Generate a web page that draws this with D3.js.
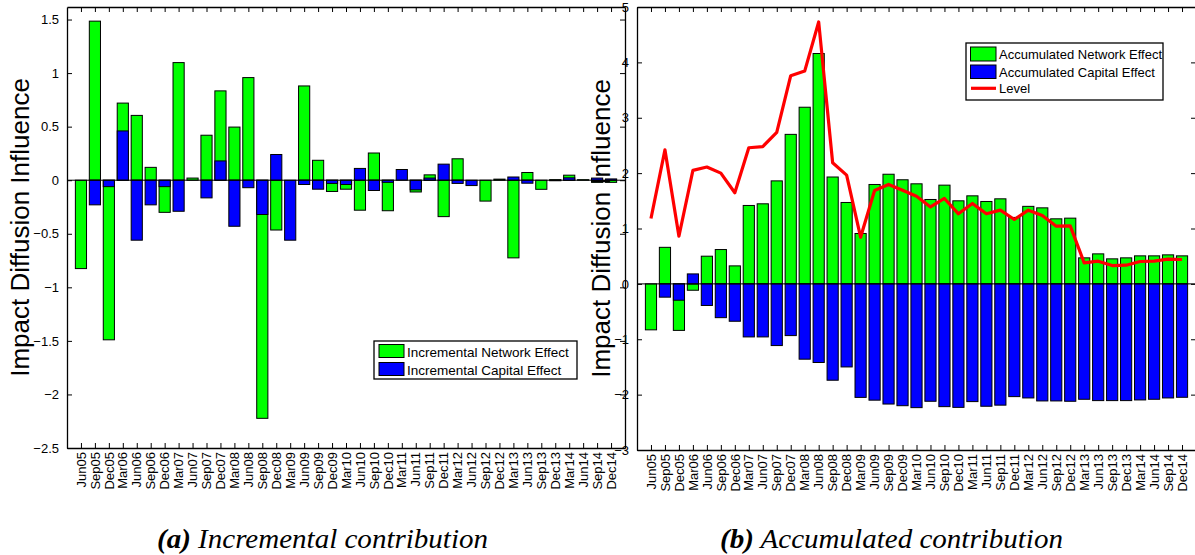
<!DOCTYPE html>
<html>
<head>
<meta charset="utf-8">
<script src="https://cdn.jsdelivr.net/npm/d3@7"></script>
<style>
  html, body { margin: 0; padding: 0; background: #fff; }
  svg { display: block; }
  text { font-family: "Liberation Sans", Arial, sans-serif; fill: #000; }
</style>
</head>
<body>
<svg id="fig" width="1195" height="555"></svg>
<script>
// Quarterly periods on the x axis
const quarters = [
  "Jun05","Sep05","Dec05",
  "Mar06","Jun06","Sep06","Dec06",
  "Mar07","Jun07","Sep07","Dec07",
  "Mar08","Jun08","Sep08","Dec08",
  "Mar09","Jun09","Sep09","Dec09",
  "Mar10","Jun10","Sep10","Dec10",
  "Mar11","Jun11","Sep11","Dec11",
  "Mar12","Jun12","Sep12","Dec12",
  "Mar13","Jun13","Sep13","Dec13",
  "Mar14","Jun14","Sep14","Dec14"
];

// (a) incremental contributions
const incNetwork = [
  -0.825, 1.485, -1.49,
  0.72, 0.605, 0.12, -0.30,
  1.098, 0.02, 0.42, 0.834,
  0.496, 0.958, -2.223, -0.465,
  0.0, 0.88, 0.186, -0.105,
  -0.084, -0.28, 0.254, -0.285,
  0.0, -0.11, 0.05, -0.34,
  0.20, 0.0, -0.195, 0.01,
  -0.725, 0.072, -0.085, 0.005,
  0.047, 0.005, -0.02, -0.02
];
const incCapital = [
  0.0, -0.23, -0.06,
  0.46, -0.56, -0.23, -0.06,
  -0.29, 0.0, -0.165, 0.18,
  -0.43, -0.07, -0.32, 0.24,
  -0.56, -0.04, -0.084, -0.03,
  -0.04, 0.11, -0.096, -0.02,
  0.10, -0.09, 0.02, 0.15,
  -0.03, -0.05, 0.0, 0.0,
  0.03, -0.028, 0.0, -0.005,
  0.022, 0.0, 0.02, 0.012
];

// (b) accumulated contributions and overall level
const accNetwork = [
  -0.83, 0.66, -0.84,
  -0.115, 0.50, 0.62, 0.325,
  1.416, 1.446, 1.86, 2.70,
  3.19, 4.16, 1.93, 1.47,
  0.91, 1.795, 1.98, 1.88,
  1.807, 1.524, 1.783, 1.50,
  1.59, 1.488, 1.536, 1.20,
  1.40, 1.373, 1.175, 1.187,
  0.47, 0.542, 0.452, 0.47,
  0.506, 0.506, 0.524, 0.506
];
const accCapital = [
  0.0, -0.24, -0.295,
  0.18, -0.39, -0.61, -0.675,
  -0.958, -0.958, -1.114, -0.934,
  -1.36, -1.42, -1.74, -1.50,
  -2.05, -2.10, -2.17, -2.20,
  -2.235, -2.12, -2.217, -2.23,
  -2.126, -2.21, -2.19, -2.036,
  -2.06, -2.114, -2.114, -2.12,
  -2.084, -2.108, -2.108, -2.108,
  -2.096, -2.084, -2.06, -2.048
];
const level = [
  1.18, 2.42, 0.86,
  2.05, 2.11, 2.0, 1.645,
  2.458, 2.48, 2.735, 3.76,
  3.843, 4.73, 2.187, 1.964,
  0.843, 1.687, 1.795, 1.69,
  1.584, 1.39, 1.542, 1.265,
  1.452, 1.265, 1.331, 1.163,
  1.331, 1.235, 1.042, 1.048,
  0.38, 0.41, 0.331, 0.337,
  0.404, 0.41, 0.446, 0.44
];

// Tick values / labels
const incTicks = [-2.5, -2, -1.5, -1, -0.5, 0, 0.5, 1, 1.5];
const accTicks = [-3, -2, -1, 0, 1, 2, 3, 4, 5];

const GREEN = "#00ff00", BLUE = "#0000ff", RED = "#ff0000";
const svg = d3.select("#fig");
svg.append("rect").attr("width", 1195).attr("height", 555).attr("fill", "#fff");

const fmtTick = v => (v < 0 ? "\u2212" : "") + String(Math.abs(v));

function panel(opts) {
  const g = svg.append("g");
  const x = d3.scaleLinear().domain([0, quarters.length + 1]).range([opts.left, opts.right]);
  const y = d3.scaleLinear().domain(opts.yDomain).range([opts.bottom, opts.top]);
  const bw = (x(1) - x(0)) * 0.8;
  const idx = d3.range(quarters.length);

  // network bars (drawn first), capital bars on top, both from zero
  const bars = [[opts.network, GREEN], [opts.capital, BLUE]];
  bars.forEach(([vals, col]) => {
    g.append("g").selectAll("rect").data(idx).join("rect")
      .attr("x", i => x(i + 1) - bw / 2)
      .attr("width", bw)
      .attr("y", i => Math.min(y(0), y(vals[i])))
      .attr("height", i => Math.abs(y(vals[i]) - y(0)))
      .attr("fill", col)
      .attr("stroke", "#000")
      .attr("stroke-width", 1);
  });

  // baseline at zero
  g.append("line")
    .attr("x1", opts.left).attr("x2", opts.right)
    .attr("y1", y(0)).attr("y2", y(0))
    .attr("stroke", "#000").attr("stroke-width", 1);

  if (opts.line) {
    g.append("path")
      .datum(opts.line)
      .attr("d", d3.line().x((d, i) => x(i + 1)).y(d => y(d)))
      .attr("fill", "none")
      .attr("stroke", RED)
      .attr("stroke-width", 3.2)
      .attr("stroke-linejoin", "round");
  }

  // axes box with inward ticks on all sides
  const tickLen = 5;
  const xTicks = idx.map(i => i + 1);
  const bottomAxis = d3.axisBottom(x).tickValues(xTicks).tickFormat("").tickSizeInner(-tickLen).tickSizeOuter(0);
  const topAxis = d3.axisTop(x).tickValues(xTicks).tickFormat("").tickSizeInner(-tickLen).tickSizeOuter(0);
  const leftAxis = d3.axisLeft(y).tickValues(opts.ticks).tickFormat(fmtTick).tickSizeInner(-tickLen).tickSizeOuter(0).tickPadding(8);
  const rightAxis = d3.axisRight(y).tickValues(opts.ticks).tickFormat("").tickSizeInner(-tickLen).tickSizeOuter(0);

  const ax = [
    g.append("g").attr("transform", `translate(0,${opts.bottom})`).call(bottomAxis),
    g.append("g").attr("transform", `translate(0,${opts.top})`).call(topAxis),
    g.append("g").attr("transform", `translate(${opts.left},0)`).call(leftAxis),
    g.append("g").attr("transform", `translate(${opts.right},0)`).call(rightAxis)
  ];
  ax.forEach(a => {
    a.select(".domain").attr("stroke", "#000").attr("stroke-width", 1.3);
    a.selectAll(".tick line").attr("stroke", "#000").attr("stroke-width", 1);
  });
  ax[2].selectAll("text")
    .style("font-size", "13px")
    .style("font-family", "Liberation Sans, Arial, sans-serif")
    .attr("fill", "#000");

  // rotated quarter labels below the axis
  g.append("g").selectAll("text").data(idx).join("text")
    .attr("transform", i => `translate(${x(i + 1)},${opts.bottom + 4}) rotate(-90)`)
    .attr("text-anchor", "end")
    .attr("dy", "0.36em")
    .style("font-size", "13px")
    .text(i => quarters[i]);

  // y axis title
  g.append("text")
    .attr("transform", `translate(${opts.titleX},${(opts.top + opts.bottom) / 2}) rotate(-90)`)
    .attr("text-anchor", "middle")
    .style("font-size", "26px")
    .text("Impact Diffusion Influence");

  return { g, x, y };
}

panel({
  left: 67, right: 625, top: 7, bottom: 448,
  yDomain: [-2.5, 1.617], ticks: incTicks,
  network: incNetwork, capital: incCapital,
  titleX: 29
});

panel({
  left: 637, right: 1196, top: 7, bottom: 450,
  yDomain: [-3, 5], ticks: accTicks,
  network: accNetwork, capital: accCapital, line: level,
  titleX: 610
});

// legends
function legend(x0, y0, w, h, fs, items) {
  const lg = svg.append("g");
  lg.append("rect").attr("x", x0).attr("y", y0).attr("width", w).attr("height", h)
    .attr("fill", "#fff").attr("stroke", "#000").attr("stroke-width", 1.3);
  items.forEach(it => {
    if (it.type === "patch") {
      lg.append("rect").attr("x", it.px).attr("y", it.py).attr("width", it.pw).attr("height", it.ph)
        .attr("fill", it.color).attr("stroke", "#000").attr("stroke-width", 1);
    } else {
      lg.append("line").attr("x1", it.px).attr("x2", it.px + it.pw)
        .attr("y1", it.py).attr("y2", it.py)
        .attr("stroke", it.color).attr("stroke-width", 3.2);
    }
    lg.append("text").attr("x", it.tx).attr("y", it.ty)
      .style("font-size", fs + "px").text(it.label);
  });
}

legend(374, 341, 203, 38, 13.5, [
  { type: "patch", color: GREEN, px: 379, py: 344.5, pw: 25, ph: 13, tx: 407, ty: 357, label: "Incremental Network Effect" },
  { type: "patch", color: BLUE, px: 379, py: 362.5, pw: 25, ph: 13, tx: 407, ty: 375, label: "Incremental Capital Effect" }
]);

legend(966, 43, 197, 57, 13, [
  { type: "patch", color: GREEN, px: 970.5, py: 47, pw: 25.5, ph: 14, tx: 999, ty: 59, label: "Accumulated Network Effect" },
  { type: "patch", color: BLUE, px: 970.5, py: 65, pw: 25.5, ph: 13.5, tx: 999, ty: 76.5, label: "Accumulated Capital Effect" },
  { type: "line", color: RED, px: 971, py: 88.3, pw: 25, tx: 999, ty: 93, label: "Level" }
]);

// sub-figure captions
function caption(xStart, width, letter, rest) {
  const t = svg.append("text").attr("x", xStart).attr("y", 548)
    .attr("textLength", width).attr("lengthAdjust", "spacingAndGlyphs")
    .style("font-family", "Liberation Serif, Times New Roman, serif")
    .style("font-size", "27px").style("font-style", "italic");
  t.append("tspan").style("font-weight", "bold").text(`(${letter})`);
  t.append("tspan").text(" " + rest);
}
caption(157, 331, "a", "Incremental contribution");
caption(720, 343, "b", "Accumulated contribution");
</script>
</body>
</html>
